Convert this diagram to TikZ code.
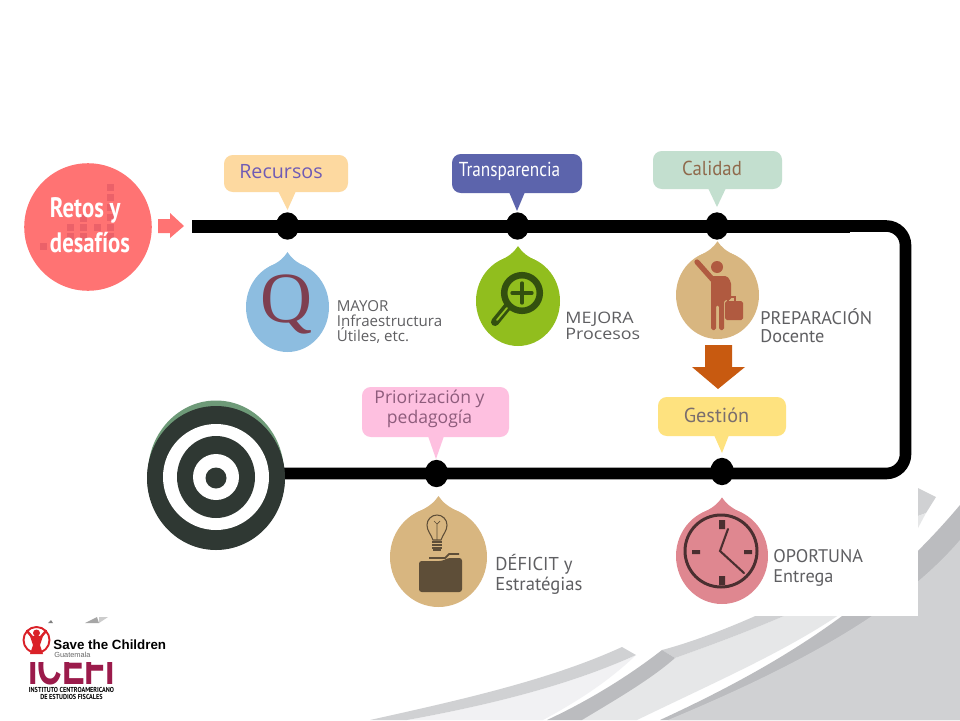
\documentclass[tikz,border=0pt]{standalone}
\usepackage{fontspec}
\setmainfont{Open Sans}
\newfontfamily\narrowfont{PT Sans}
\newfontfamily\logofont{Liberation Sans}
\newfontfamily\letterfont{Liberation Serif}
\usetikzlibrary{shapes,arrows,positioning}
\definecolor{panelgray}{HTML}{D0D1D3}
\definecolor{bandgray}{HTML}{BBBCBF}
\definecolor{softgray}{HTML}{E6E7E8}
\definecolor{palegray}{HTML}{F1F1F3}
\definecolor{textgray}{HTML}{5F5F62}
\definecolor{tandrop}{HTML}{D8B680}
\definecolor{retosred}{HTML}{FF7373}
\definecolor{retosdark}{HTML}{EB6169}
\definecolor{targetdark}{HTML}{2F3833}
\definecolor{targetgreen}{HTML}{6E9A78}
\definecolor{logored}{HTML}{DA2128}
\definecolor{icefired}{HTML}{9B1B4B}
\definecolor{recursosfill}{HTML}{FDD9A0}
\definecolor{recursostext}{HTML}{6F5BB5}
\definecolor{qdrop}{HTML}{8DBDE0}
\definecolor{qletter}{HTML}{7E3F50}
\definecolor{transfill}{HTML}{5C64AC}
\definecolor{greendrop}{HTML}{91BE1E}
\definecolor{greendark}{HTML}{33500F}
\definecolor{calidadfill}{HTML}{C3DFCF}
\definecolor{calidadtext}{HTML}{8F6A4C}
\definecolor{personbrown}{HTML}{B05A40}
\definecolor{arroworange}{HTML}{C85A10}
\definecolor{gestionfill}{HTML}{FEE27F}
\definecolor{gestiontext}{HTML}{7A6E6E}
\definecolor{clockdrop}{HTML}{DF8790}
\definecolor{clockdark}{HTML}{4A2F30}
\definecolor{priorfill}{HTML}{FEC0E0}
\definecolor{priortext}{HTML}{8E5C7C}
\definecolor{folderbrown}{HTML}{5E4E38}
\tikzset{
  bubble/.style={rounded corners=5pt, inner sep=0pt},
  stopdot/.style={ellipse, fill=black, minimum width=13.4pt, minimum height=15.6pt, inner sep=0pt},
  bubbletext/.style={inner sep=0pt, align=center, font=\narrowfont\fontsize{11.5}{11.5}\selectfont},
  sidelabel/.style={inner sep=0pt, anchor=west, align=left, text=textgray, font=\fontsize{8.6}{8.5}\selectfont},
  sidelabelb/.style={inner sep=0pt, anchor=west, align=left, text=textgray, font=\narrowfont\fontsize{10.4}{10.2}\selectfont},
}
% drop: x, y, rx, ry, colour
\newcommand{\dropshape}[5]{
  \fill[#5] (#1,#2-1.22*#4) .. controls (#1-0.1*#3,#2-1.08*#4) and (#1-0.2*#3,#2-1.0*#4) .. (#1-0.45*#3,#2-0.89*#4)
     -- (#1+0.45*#3,#2-0.89*#4) .. controls (#1+0.2*#3,#2-1.0*#4) and (#1+0.1*#3,#2-1.08*#4) .. (#1,#2-1.22*#4);
  \fill[#5] (#1,#2) ellipse ({#3} and {#4});
}
\begin{document}
\begin{tikzpicture}[x=0.02cm,y=-0.02cm]
    \useasboundingbox (0,0) rectangle (960,720);
    \fill[white] (0,0) rectangle (960,720);

    %%background
    \fill[bandgray] (960,505) .. controls (880,600) and (790,660) .. (660,720) -- (960,720) -- cycle;
    \fill[panelgray] (960,540) .. controls (900,610) and (800,665) .. (668,720) -- (960,720) -- cycle;
    \fill[softgray] (675,658) .. controls (720,642) and (780,620) .. (840,590) -- (860,600) .. controls (800,645) and (730,675) .. (637,720) -- (582,720) -- cycle;
    \fill[panelgray] (662,650) .. controls (700,640) and (750,620) .. (800,595) -- (840,590) .. controls (780,620) and (720,642) .. (675,658) -- cycle;
    \fill[bandgray] (662,650) .. controls (630,675) and (590,700) .. (547,720) -- (582,720) .. controls (615,700) and (650,680) .. (675,658) -- cycle;
    \fill[palegray] (636,655) .. controls (570,685) and (490,705) .. (407,720) -- (543,720) .. controls (580,700) and (610,680) .. (636,655);
    \fill[panelgray] (622,647) -- (636,655) .. controls (570,685) and (490,705) .. (407,720) -- (370,720) .. controls (460,700) and (550,680) .. (622,647);
    \fill[panelgray] (918,488) -- (936,497) -- (926,513) -- (918,516) -- cycle;
    \fill[softgray] (926,513) -- (918,528) -- (918,516) -- cycle;
    \fill[white] (20,140) rectangle (918,616);
    \fill[gray!70] (85,623) -- (97,617) -- (99,623) -- cycle;
    \fill[gray!40] (99,623) -- (99,617) -- (108,617) -- cycle;
    \fill[gray] (48,623) -- (51,620) -- (53,623) -- cycle;

    %%main line
    \coordinate (linestart) at (192,226);
    \coordinate (linebend) at (850,226);
    \coordinate (cornerne) at (905.5,226);
    \coordinate (cornerse) at (905.5,473.5);
    \draw[line width=7.4pt] (linestart) -- (linebend);
    \draw[line width=6.6pt, rounded corners=11pt] (linebend) -- (cornerne) -- (cornerse) -- (280,473.5);

    %%retos
    \node[circle, fill=retosred, minimum size=72.6pt, inner sep=0pt] (retos) at (88,227) {};
    \foreach \px/\py in {43/246,70/227,70/236,83/218,83/227,83/236,97/227,110/187,110/197,110/207,110/217,110/227,110/236}
        \fill[retosdark] (\px-3.5,\py-3.5) rectangle (\px+3.5,\py+3.5);
    \node[inner sep=0pt, xscale=0.81, text=white, align=left, font=\narrowfont\bfseries\fontsize{16}{20}\selectfont] (retostext) at (90,225) {Retos y\\desaf\'{\i}os};
    \fill[retosred] (158,219) -- (170,219) -- (170,213) -- (184,226) -- (170,238) -- (170,233) -- (158,233) -- cycle;

    %%recursos
    \fill[bubble, fill=recursosfill] (224,155) rectangle (348,192);
    \fill[recursosfill] (278,191) -- (296,191) -- (287.5,210) -- cycle;
    \node[bubbletext, text=recursostext, font=\fontsize{11.2}{12}\selectfont] (recursos) at (281,172) {Recursos};
    \node[stopdot] (dotrecursos) at (287.5,226) {};
    \dropshape{287.5}{307}{41.5}{45}{qdrop}
    \node[inner sep=0pt, text=qletter, font=\letterfont\fontsize{41}{41}\selectfont] (letterq) at (287,304) {Q};
    \node[sidelabel] (mayor) at (336.5,322) {MAYOR\\Infraestructura\\\'Utiles, etc.};

    %%transparencia
    \fill[bubble, fill=transfill] (452,154) rectangle (582,193);
    \fill[transfill] (509,192) -- (525,192) -- (517,211) -- cycle;
    \node[bubbletext, xscale=0.85, text=white] (transparencia) at (509.5,171) {Transparencia};
    \node[stopdot] (dottransparencia) at (517.5,226) {};
    \dropshape{518}{301}{42}{45}{greendrop}
    \draw[line width=3.7pt, greendark] (522,293) circle (17.8);
    \draw[line width=1.9pt, greendark, line cap=round] (512,293) -- (532,293) (522,283) -- (522,303);
    \draw[line width=4.6pt, greendark, line cap=round] (508,306) -- (495,322);
    \draw[line width=1pt, greendrop, line cap=round] (507,308) -- (497,320);
    \node[sidelabel, xscale=1.13, font=\fontsize{9}{9.2}\selectfont] (mejora) at (565,326) {MEJORA\\Procesos};

    %%calidad
    \fill[bubble, fill=calidadfill] (653,151) rectangle (782,189);
    \fill[calidadfill] (708,188) -- (726,188) -- (717,207) -- cycle;
    \node[bubbletext, xscale=0.93, text=calidadtext] (calidad) at (712,168) {Calidad};
    \node[stopdot] (dotcalidad) at (717,226) {};
    \dropshape{717.5}{295}{41.5}{44}{tandrop}
    \fill[personbrown] (717,267) circle (6);
    \draw[line width=3pt, line cap=round, personbrown] (697,262) -- (713,280);
    \fill[personbrown, rounded corners=1pt] (711,276) -- (727,276) -- (731,282) -- (731,300) -- (724,300) -- (724,330) -- (719,330) -- (719,305) -- (716,305) -- (716,330) -- (711,330) -- cycle;
    \fill[personbrown, rounded corners=1pt] (725,301) rectangle (743,320);
    \draw[line width=0.7pt, personbrown] (728,301) -- (728,297) -- (735,297) -- (735,301);
    \node[sidelabelb] (preparacion) at (760,325.5) {PREPARACI\'ON\\Docente};

    %%arrow down
    \fill[arroworange] (705,345) -- (732,345) -- (732,367) -- (745,367) -- (718,389) -- (692,367) -- (705,367) -- cycle;

    %%gestion
    \fill[bubble, fill=gestionfill] (658,397) rectangle (786,436);
    \fill[gestionfill] (714,435) -- (729,435) -- (722,453) -- cycle;
    \node[bubbletext, text=gestiontext] (gestion) at (716.5,415) {Gesti\'on};
    \node[stopdot] (dotgestion) at (722,471.5) {};
    \dropshape{722}{556}{46}{48}{clockdrop}
    \draw[line width=1.7pt, clockdark] (721,551) circle (36);
    \fill[clockdark] (719,520) rectangle (725,529) (719,576) rectangle (725,585) (692,550) rectangle (700,554) (744,550) rectangle (752,554);
    \draw[line width=1.2pt, clockdark, line cap=round] (728,529) -- (720,551) -- (744,573);
    \node[sidelabelb, font=\narrowfont\fontsize{10.4}{11}\selectfont] (oportuna) at (773,568) {OPORTUNA\\Entrega};

    %%priorizacion
    \fill[bubble, fill=priorfill] (362,387) rectangle (509,437);
    \fill[priorfill] (428,436) -- (444,436) -- (436,459) -- cycle;
    \node[bubbletext, text=priortext, font=\fontsize{10}{9.8}\selectfont] (priorizacion) at (429.5,409) {Priorizaci\'on y\\pedagog\'{\i}a};
    \node[stopdot] (dotpriorizacion) at (436.5,473.5) {};
    \dropshape{438.5}{557}{48.5}{50}{tandrop}
    \draw[line width=0.6pt, folderbrown] (433,540) .. controls (431,534) and (427,531) .. (427,525) arc (180:360:10) .. controls (447,531) and (443,534) .. (441,540) -- cycle;
    \draw[line width=0.4pt, folderbrown] (437,540) -- (437,524) (434,521) -- (437,524) -- (440,521);
    \foreach \py in {542,545,548} \draw[line width=0.9pt, folderbrown] (432,\py) -- (442,\py);
    \fill[folderbrown] (433,549) rectangle (441,551);
    \fill[folderbrown, rounded corners=1.5pt] (419,561) -- (442,561) -- (448,558) -- (462,558) -- (462,592) -- (419,592) -- cycle;
    \draw[line width=1pt, folderbrown] (429,558) -- (445,558) -- (449,554) -- (459,554);
    \node[sidelabelb, font=\narrowfont\fontsize{10.6}{11}\selectfont] (deficit) at (495,574.5) {D\'EFICIT y\\Estrat\'egias};

    %%target
    \fill[targetgreen] (216,473) ellipse (68 and 72.5);
    \node[circle, fill=targetdark, minimum width=78.2pt, inner sep=0pt] (target) at (216,478) {};
    \fill[targetdark] (216,478) ellipse (69 and 72);
    \fill[white] (216,477) circle (53);
    \fill[targetdark] (216,477) ellipse (39 and 41);
    \fill[white] (216,477) circle (23);
    \fill[targetdark] (216,478) circle (10.5);

    %%logos
    \draw[line width=1.1pt, logored] (36.5,640) circle (13);
    \fill[logored] (36.5,633) circle (3.5);
    \fill[logored] (30,636) -- (43,636) -- (40,645) -- (43,654) -- (30,654) -- (33,645) -- cycle;
    \draw[line width=1.4pt, logored, line cap=round] (33,638) -- (27,631) (40,638) -- (46,631);
    \node[inner sep=0pt, anchor=west, font=\logofont\bfseries\fontsize{7.6}{8}\selectfont] (savechildren) at (53,644.5) {Save the Children};
    \node[inner sep=0pt, anchor=west, text=gray!80!black, font=\logofont\fontsize{4.2}{4.2}\selectfont] (guatemala) at (54,655) {Guatemala};
    \begin{scope}
        \clip (20,662) rectangle (120,686);
        \node[inner sep=0pt, anchor=base west, xscale=0.645, text=icefired, font=\logofont\bfseries\fontsize{30}{30}\selectfont] (icefi) at (28,684) {ICEFI};
    \end{scope}
    \node[inner sep=0pt, xscale=0.86, font=\narrowfont\bfseries\fontsize{4.1}{4.1}\selectfont] (instituto) at (71.5,690) {INSTITUTO CENTROAMERICANO};
    \node[inner sep=0pt, xscale=0.86, font=\narrowfont\bfseries\fontsize{4.1}{4.1}\selectfont] (estudios) at (71.5,697) {DE ESTUDIOS FISCALES};
\end{tikzpicture}
\end{document}
